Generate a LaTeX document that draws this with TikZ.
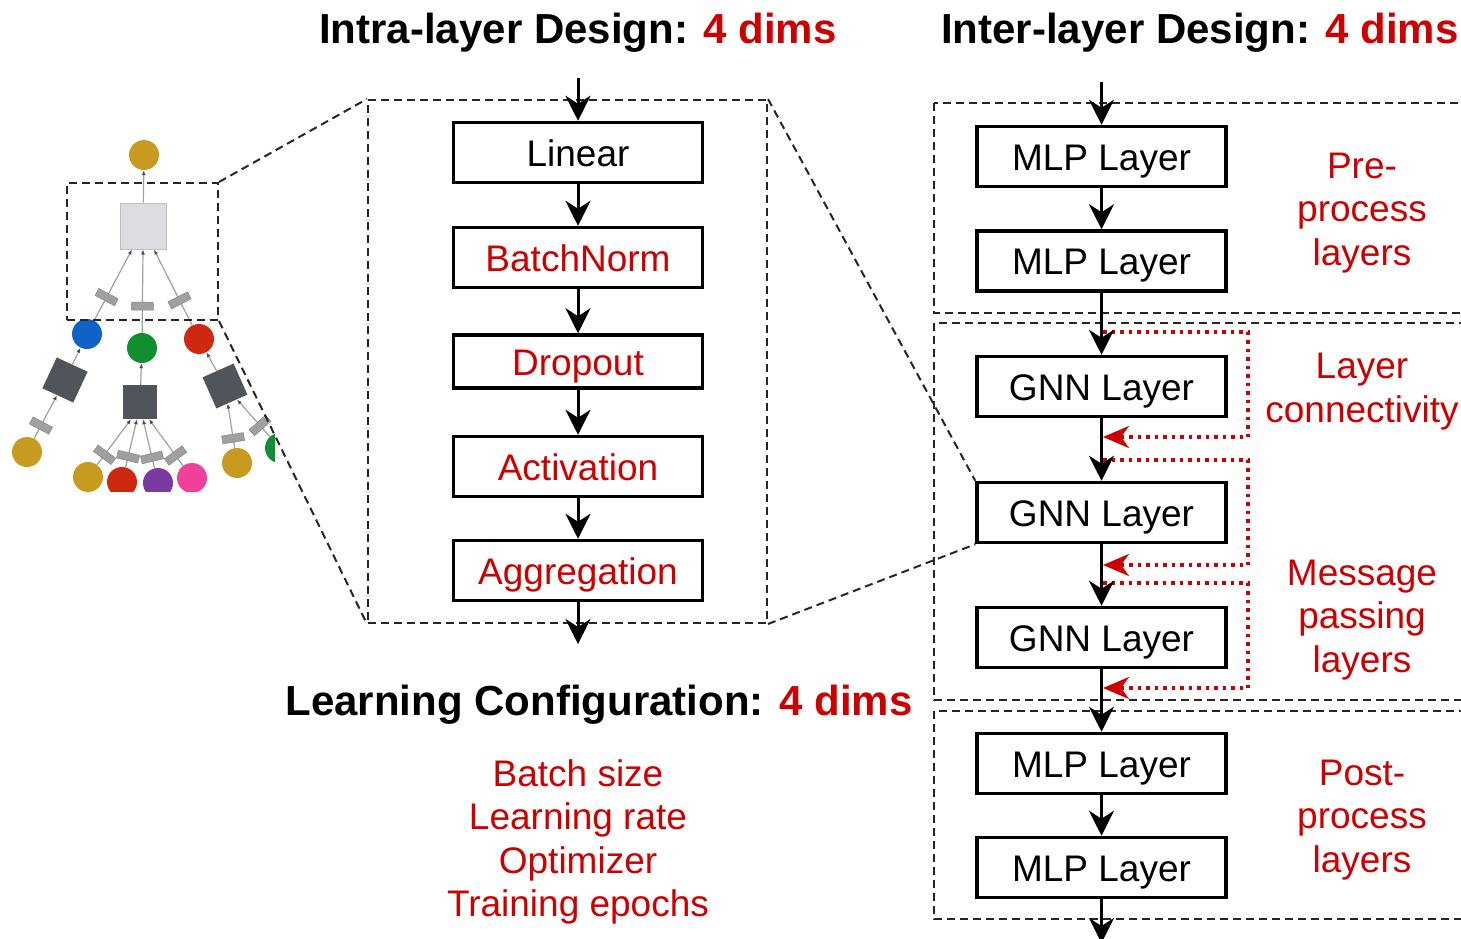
\documentclass[tikz,border=0pt]{standalone}
\usepackage{fontspec}
\setmainfont{Liberation Sans}
\usetikzlibrary{arrows.meta}
\definecolor{dimred}{RGB}{204,0,0}
\definecolor{leafgold}{RGB}{201,154,32}
\definecolor{leafblue}{RGB}{16,98,200}
\definecolor{leafgreen}{RGB}{16,142,48}
\definecolor{leafred}{RGB}{208,40,16}
\definecolor{leafpurple}{RGB}{122,58,160}
\definecolor{leafpink}{RGB}{240,64,154}
\definecolor{aggdark}{RGB}{80,84,91}
\definecolor{agglight}{RGB}{220,221,225}
\definecolor{edgegray}{RGB}{160,160,160}

\begin{document}
\begin{tikzpicture}[x=1pt, y=-1pt,
    layer/.style={draw, line width=3.5pt, fill=white, minimum width=249pt, minimum height=60pt,
      inner sep=0pt, text height=27pt, text depth=0pt, font=\fontsize{37}{43}\selectfont},
    flow/.style={line width=3pt, -{Stealth[length=25pt, width=25pt, inset=8pt]}},
    skip/.style={dimred, line width=3.5pt, dash pattern=on 3.5pt off 5pt,
      -{Stealth[length=26pt, width=22pt, inset=8pt]}},
    region/.style={draw=black!85, line width=2pt, dash pattern=on 8pt off 5pt},
    headline/.style={anchor=base, font=\fontsize{42}{48}\selectfont\bfseries},
    note/.style={text=dimred, align=center, font=\fontsize{37}{43.5}\selectfont},
    dot/.style={circle, fill=#1, minimum size=30pt, inner sep=0pt},
    hub/.style={fill=aggdark, minimum size=34pt, inner sep=0pt},
    bar/.style={fill=edgegray, draw=gray, line width=0.4pt, minimum width=8pt, minimum height=22pt,
      inner sep=0pt, sloped},
    edge/.style={edgegray, line width=1.2pt, -{Latex[length=5pt, width=4pt, color=gray!60!black]}}]
\useasboundingbox (0,0) rectangle (1461,939);

% titles
\node[headline] (intra title) at (578,44) {Intra-layer Design: \textcolor{dimred}{4 dims}};
\node[headline] (inter title) at (1200,44) {Inter-layer Design: \textcolor{dimred}{4 dims}};
\node[headline] (learn title) at (599,715) {Learning Configuration: \textcolor{dimred}{4 dims}};

% left: computation graph (cropped)
\begin{scope}
  \clip (0,130) rectangle (275,491);
  \node[dot=leafgold] (top) at (144,155) {};
  \node[fill=agglight, draw=gray!50, line width=1pt, minimum size=46pt, inner sep=0pt] (root) at (143,226) {};
  \node[dot=leafblue] (cA) at (87,334) {};
  \node[dot=leafgreen] (cB) at (142,348) {};
  \node[dot=leafred] (cC) at (199,339) {};
  \node[hub, rotate=-25] (hA) at (65,380) {};
  \node[hub] (hB) at (140,402) {};
  \node[hub, rotate=24] (hC) at (225,386) {};
  \node[dot=leafgold] (lA) at (27,452) {};
  \node[dot=leafgold] (lB) at (88,477) {};
  \node[dot=leafred] (lC) at (122,482) {};
  \node[dot=leafpurple] (lD) at (158,483) {};
  \node[dot=leafpink] (lE) at (192,478) {};
  \node[dot=leafgold] (lF) at (237,463) {};
  \node[dot=leafgreen] (lG) at (280,448) {};

  \draw[edge] (root) -- (top);
  \draw[edge] (cA) -- node[bar, pos=0.33] (bA) {} ([xshift=-11pt]root.south);
  \draw[edge] (cB) -- node[bar, pos=0.32] (bB) {} (root.south);
  \draw[edge] (cC) -- node[bar, pos=0.33] (bC) {} ([xshift=11pt]root.south);
  \draw[edge] (hA) -- (cA);
  \draw[edge] (hB) -- (cB);
  \draw[edge] (hC) -- (cC);
  \draw[edge] (lA) -- node[bar, pos=0.3] (bD) {} (hA);
  \draw[edge] (lB) -- node[bar, pos=0.22] (bE) {} ([xshift=-9pt]hB.south);
  \draw[edge] (lC) -- node[bar, pos=0.22] (bF) {} ([xshift=-3pt]hB.south);
  \draw[edge] (lD) -- node[bar, pos=0.22] (bG) {} ([xshift=3pt]hB.south);
  \draw[edge] (lE) -- node[bar, pos=0.22] (bH) {} ([xshift=9pt]hB.south);
  \draw[edge] (lF) -- node[bar, pos=0.22] (bI) {} (hC);
  \draw[edge] (lG) -- node[bar, pos=0.3] (bJ) {} (hC);
\end{scope}

% middle: intra-layer design
\node[region, minimum width=151pt, minimum height=137pt] (zoom box) at (142.5,251.5) {};
\node[region, minimum width=399pt, minimum height=523pt] (intra box) at (567.5,361.5) {};

\node[layer] (linear) at (578,152.5) {Linear};
\node[layer, text=dimred] (bnorm) at (578,257.5) {BatchNorm};
\node[layer, text=dimred, minimum height=53pt] (dropout) at (578,361.5) {Dropout};
\node[layer, text=dimred] (activ) at (578,466.5) {Activation};
\node[layer, text=dimred] (aggr) at (578,570.5) {Aggregation};

\coordinate (intra in) at (578,78);
\coordinate (intra out) at (578,644);
\draw[flow] (intra in) -- (linear);
\draw[flow] (linear) -- (bnorm);
\draw[flow] (bnorm) -- (dropout);
\draw[flow] (dropout) -- (activ);
\draw[flow] (activ) -- (aggr);
\draw[flow] (aggr) -- (intra out);

% right: inter-layer design
\draw[region] (934,103) rectangle (1480,313);
\draw[region] (934,323) rectangle (1480,700);
\draw[region] (934,711) rectangle (1480,919);

\node[layer] (mlpA) at (1101.5,156.5) {MLP Layer};
\node[layer] (mlpB) at (1101.5,261) {MLP Layer};
\node[layer] (gnnA) at (1101.5,386.5) {GNN Layer};
\node[layer] (gnnB) at (1101.5,512.5) {GNN Layer};
\node[layer] (gnnC) at (1101.5,637.5) {GNN Layer};
\node[layer] (mlpC) at (1101.5,763.5) {MLP Layer};
\node[layer] (mlpD) at (1101.5,867.5) {MLP Layer};

% zoom lines
\draw[region] (zoom box.north east) -- (intra box.north west);
\draw[region] (zoom box.south east) -- (intra box.south west);
\draw[region] (intra box.north east) -- (gnnB.north west);
\draw[region] (intra box.south east) -- (gnnB.south west);

% skip connections
\coordinate (skA from) at (1103,332);  \coordinate (skA to) at (1103,437);
\coordinate (skB from) at (1103,460);  \coordinate (skB to) at (1103,565);
\coordinate (skC from) at (1103,583);  \coordinate (skC to) at (1103,688);
\draw[skip] (skA from) -- ++(145,0) |- (skA to);
\draw[skip] (skB from) -- ++(145,0) |- (skB to);
\draw[skip] (skC from) -- ++(145,0) |- (skC to);

\coordinate (inter in) at (1101.5,82);
\coordinate (inter out) at (1101.5,943);
\draw[flow] (inter in) -- (mlpA);
\draw[flow] (mlpA) -- (mlpB);
\draw[flow] (mlpB) -- (gnnA);
\draw[flow] (gnnA) -- (gnnB);
\draw[flow] (gnnB) -- (gnnC);
\draw[flow] (gnnC) -- (mlpC);
\draw[flow] (mlpC) -- (mlpD);
\draw[flow] (mlpD) -- (inter out);

\node[note] (pre label) at (1362,213) {Pre-\\process\\layers};
\node[note] (conn label) at (1362,391.5) {Layer\\connectivity};
\node[note] (mp label) at (1362,620) {Message\\passing\\layers};
\node[note] (post label) at (1362,820) {Post-\\process\\layers};

% learning configuration
\node[note] (learn list) at (578,842) {Batch size\\Learning rate\\Optimizer\\Training epochs};

\end{tikzpicture}
\end{document}
